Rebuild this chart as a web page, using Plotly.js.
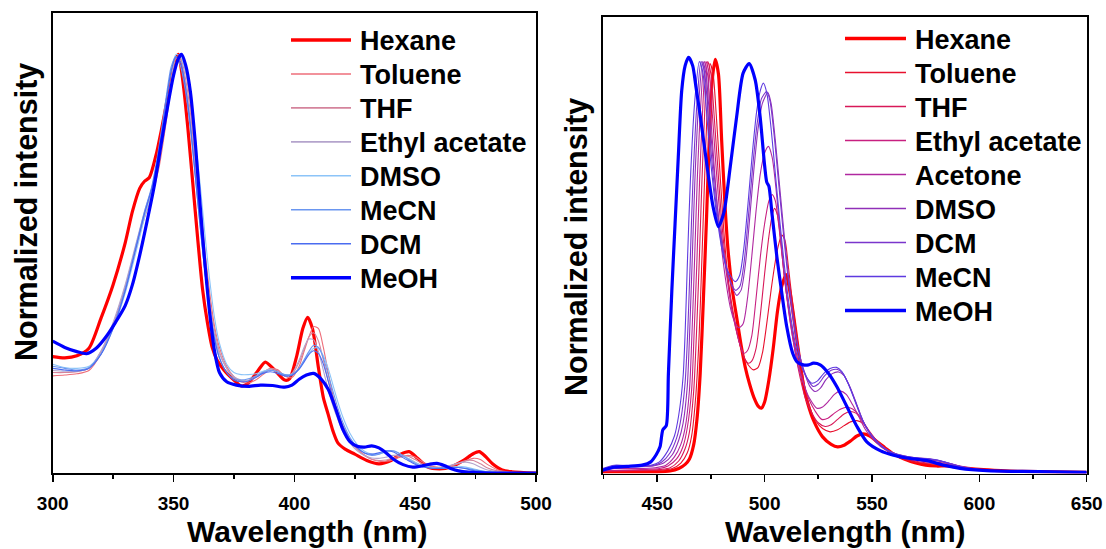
<!DOCTYPE html>
<html><head><meta charset="utf-8">
<script src="https://cdn.plot.ly/plotly-3.0.1.min.js"></script>
<style>html,body{margin:0;padding:0;background:#fff}#chart{width:1106px;height:549px}</style>
</head><body><div id="chart"></div>
<script>
// ---------------- Absorption (left panel) ----------------
const absNames = ['Hexane','Toluene','THF','Ethyl acetate','DMSO','MeCN','DCM','MeOH'];
const absColors = ['#ff0000','#ee6e7a','#d4849c','#b4a4cc','#8cc4f8','#6a96f0','#4a6cf0','#0000ff'];

const absHexaneX = [300,305,310,315,320,325,330,333,336,338,340,343,345,347,349,350.5,352,354,356,358,360,362,364,366,368,371,375,378,381,385,388,392,396,398,401,403.5,405.5,407.5,410,412,414,416,418,421,425,430,435,440,444,447.5,451,455,460,465,470,474,476.5,479,482,486,490,500];
const absHexaneY = [0.278,0.275,0.28,0.298,0.37,0.45,0.55,0.625,0.68,0.697,0.706,0.765,0.82,0.88,0.94,0.98,1.0,0.93,0.82,0.69,0.56,0.44,0.36,0.30,0.27,0.245,0.222,0.208,0.215,0.245,0.265,0.245,0.222,0.225,0.28,0.345,0.372,0.345,0.25,0.18,0.14,0.1,0.072,0.057,0.045,0.03,0.022,0.03,0.045,0.051,0.035,0.015,0.01,0.015,0.03,0.046,0.051,0.04,0.022,0.007,0.003,0];

const absMeOHX = [300,305,310,314,318,322,326,330,333,336,339,342,345,348,350,352,353.3,355,357,359,361,363,365,367,369,372,376,381,386,391,396,399,402,405,408,411,414,417,420,423,426,429,432,435,438,441,445,449,453,456,459,462,465,468,472,480,500];
const absMeOHY = [0.315,0.30,0.29,0.285,0.298,0.325,0.36,0.40,0.45,0.52,0.6,0.685,0.79,0.89,0.95,0.99,1.0,0.975,0.91,0.79,0.64,0.5,0.38,0.29,0.24,0.218,0.21,0.207,0.21,0.209,0.205,0.21,0.224,0.234,0.238,0.225,0.2,0.155,0.105,0.075,0.064,0.062,0.065,0.06,0.048,0.033,0.02,0.014,0.017,0.021,0.023,0.018,0.01,0.005,0.002,0,0];

const absGrid = [300,305,310,315,320,325,330,335,338,341,344,347,349,351,353,355,357,359,361,363,365,367,369,372,375,378,381,384,387,390,393,396,399,402,404,406,408,410,412,414,416,418,420,423,426,429,432,435,438,441,444,447,450,453,456,459,462,465,468,471,474,477,480,484,490,500];
const absToluene = [0.232,0.234,0.237,0.245,0.285,0.35,0.44,0.55,0.61,0.66,0.73,0.84,0.92,0.98,1.0,0.96,0.88,0.77,0.65,0.53,0.43,0.35,0.3,0.255,0.23,0.218,0.215,0.222,0.235,0.248,0.247,0.232,0.228,0.255,0.29,0.325,0.35,0.345,0.3,0.24,0.185,0.145,0.115,0.08,0.058,0.043,0.033,0.028,0.028,0.032,0.038,0.042,0.038,0.027,0.018,0.014,0.014,0.017,0.022,0.029,0.035,0.032,0.02,0.008,0.002,0];
const absTHF = [0.24,0.24,0.242,0.25,0.29,0.355,0.445,0.555,0.62,0.67,0.74,0.85,0.93,0.99,0.99,0.94,0.86,0.74,0.62,0.5,0.41,0.34,0.29,0.25,0.228,0.22,0.22,0.228,0.24,0.25,0.245,0.232,0.235,0.265,0.295,0.325,0.335,0.315,0.27,0.22,0.175,0.14,0.11,0.078,0.056,0.042,0.033,0.03,0.031,0.036,0.041,0.04,0.032,0.022,0.015,0.013,0.014,0.018,0.024,0.03,0.03,0.022,0.012,0.005,0.001,0];
const absEtOAc = [0.245,0.243,0.243,0.25,0.292,0.36,0.45,0.56,0.625,0.68,0.75,0.86,0.94,0.995,0.985,0.93,0.84,0.72,0.6,0.49,0.4,0.33,0.285,0.25,0.23,0.222,0.222,0.23,0.242,0.248,0.242,0.232,0.238,0.27,0.3,0.32,0.318,0.29,0.245,0.2,0.16,0.128,0.1,0.072,0.053,0.042,0.036,0.035,0.038,0.042,0.042,0.035,0.026,0.018,0.013,0.012,0.014,0.019,0.024,0.026,0.022,0.014,0.007,0.003,0.001,0];
const absDMSO = [0.26,0.252,0.25,0.255,0.285,0.345,0.43,0.54,0.61,0.67,0.76,0.89,0.96,1.0,0.995,0.96,0.9,0.8,0.69,0.57,0.46,0.37,0.31,0.26,0.24,0.235,0.235,0.237,0.243,0.246,0.242,0.235,0.235,0.25,0.268,0.285,0.298,0.298,0.28,0.25,0.21,0.17,0.135,0.095,0.068,0.052,0.045,0.045,0.05,0.052,0.045,0.035,0.025,0.018,0.014,0.012,0.012,0.014,0.016,0.014,0.01,0.006,0.003,0.001,0,0];
const absMeCN = [0.255,0.25,0.246,0.252,0.285,0.35,0.44,0.555,0.625,0.685,0.78,0.9,0.97,0.995,0.97,0.91,0.82,0.71,0.59,0.48,0.39,0.32,0.275,0.24,0.225,0.222,0.225,0.232,0.24,0.245,0.242,0.235,0.235,0.25,0.27,0.29,0.305,0.3,0.275,0.235,0.195,0.155,0.122,0.085,0.062,0.048,0.042,0.045,0.052,0.053,0.045,0.033,0.023,0.016,0.012,0.011,0.011,0.012,0.013,0.011,0.008,0.005,0.003,0.001,0,0];
const absDCM = [0.25,0.246,0.244,0.25,0.283,0.345,0.435,0.55,0.62,0.68,0.77,0.89,0.96,0.995,0.98,0.92,0.83,0.71,0.59,0.48,0.39,0.32,0.275,0.24,0.222,0.218,0.22,0.228,0.238,0.242,0.238,0.232,0.233,0.248,0.265,0.283,0.292,0.285,0.26,0.22,0.18,0.143,0.113,0.08,0.06,0.048,0.045,0.048,0.053,0.05,0.04,0.03,0.021,0.015,0.012,0.011,0.012,0.013,0.013,0.01,0.006,0.004,0.002,0.001,0,0];

// ---------------- Emission (right panel) ----------------
const emNames = ['Hexane','Toluene','THF','Ethyl acetate','Acetone','DMSO','DCM','MeCN','MeOH'];
const emColors = ['#ff0000','#e8102e','#d81858','#c82080','#b028a0','#9030b8','#7a35cc','#5e3ae0','#0000ff'];

const emHexaneX = [424.6,430,440,450,456,460,463,465,467,468.5,470,471.5,473,474.5,475.5,477,478.5,480,481.5,483,485,487,489,491,493,495,497,498.5,500,502,504,506,508,510,512,514,516,518,520,523,527,531,534,537,540,543,546,549,552,556,560,565,570,575,580,585,590,600,610,620,635,650];
const emHexaneY = [0.004,0.004,0.004,0.004,0.006,0.012,0.022,0.035,0.07,0.13,0.24,0.42,0.62,0.84,0.94,0.995,0.96,0.8,0.65,0.535,0.44,0.375,0.31,0.255,0.215,0.183,0.162,0.157,0.172,0.225,0.3,0.39,0.45,0.478,0.43,0.36,0.285,0.215,0.17,0.125,0.088,0.07,0.064,0.068,0.078,0.09,0.095,0.09,0.078,0.062,0.047,0.035,0.026,0.02,0.018,0.018,0.015,0.01,0.007,0.005,0.004,0.003];

const emTolueneX = [424.6,435,445,452,457,461,464,466,468,469.5,470.7,472,473.3,474.6,476,477.5,479,480.5,482,484,486,488,490,492.5,494.8,497,499,501,503,505,506.5,508,509.5,511,513,515,517,519,521,524,527,530.5,534,537,540,543,546,549,552,556,560,565,570,575,580,585,590,597,605,620,650];
const emTolueneY = [0.005,0.006,0.007,0.008,0.012,0.025,0.05,0.09,0.19,0.33,0.5,0.7,0.88,0.985,0.96,0.86,0.74,0.62,0.52,0.43,0.37,0.32,0.285,0.26,0.249,0.255,0.29,0.36,0.44,0.51,0.55,0.573,0.56,0.5,0.41,0.33,0.26,0.2,0.16,0.125,0.108,0.1,0.105,0.115,0.124,0.127,0.12,0.1,0.08,0.06,0.045,0.034,0.027,0.024,0.022,0.02,0.016,0.01,0.007,0.004,0.003];

const emTHFX = [424.6,435,445,452,456,460,463,465,467,468.3,469.5,470.8,472.2,473.5,475,476.5,478,479.5,481,483,485,487,489,491,492.4,494,496,498,500,502,503.5,504.6,506,507.5,509,511,513,515,517,519,522,525,528.2,531,534,537,539.8,542.5,545,548,551,555,560,565,570,575,580,585,590,597,605,620,650];
const emTHFY = [0.006,0.007,0.008,0.01,0.014,0.03,0.06,0.1,0.2,0.34,0.5,0.7,0.88,0.99,0.96,0.86,0.75,0.64,0.55,0.46,0.39,0.34,0.3,0.273,0.265,0.27,0.3,0.38,0.48,0.57,0.62,0.637,0.62,0.56,0.48,0.4,0.33,0.27,0.22,0.18,0.145,0.122,0.113,0.117,0.13,0.143,0.149,0.145,0.13,0.105,0.085,0.065,0.048,0.037,0.03,0.026,0.024,0.022,0.017,0.011,0.007,0.004,0.003];

const emEtOAcX = [424.6,435,445,451,455,459,462,464,466,467.2,468.4,469.7,471.2,472.7,474.2,475.7,477.2,478.7,480.5,482.5,484.5,486.5,488.5,490.4,492,494,496,498,500,502,503.5,505,506.5,508,510,512,514,516,518,520.5,523.5,526.6,529.5,532.5,535.5,538.3,541,544,547,550,554,559,565,570,575,580,585,590,597,605,620,650];
const emEtOAcY = [0.007,0.008,0.01,0.012,0.018,0.035,0.065,0.11,0.2,0.34,0.5,0.7,0.88,0.99,0.96,0.86,0.75,0.65,0.55,0.47,0.4,0.35,0.31,0.289,0.295,0.33,0.42,0.52,0.6,0.655,0.67,0.655,0.6,0.53,0.44,0.37,0.31,0.26,0.22,0.18,0.15,0.13,0.133,0.145,0.155,0.159,0.155,0.14,0.115,0.092,0.07,0.05,0.038,0.032,0.029,0.027,0.024,0.018,0.012,0.007,0.004,0.003];

const emAcetoneX = [424.6,430,440,449,454,458,461,463,465,466.2,467.3,468.6,470.2,471.9,473.4,475,476.5,478,480,482,484,486,488,490,492,494,496,498,500,501.8,503.5,505,506.5,508,510,512,514,516,518.5,521,524.3,527,530,532.5,535.2,538,541,544,547,550,554,559,565,570,575,580,585,590,597,605,620,650];
const emAcetoneY = [0.008,0.012,0.012,0.014,0.02,0.04,0.07,0.11,0.2,0.34,0.5,0.7,0.88,0.99,0.96,0.85,0.74,0.64,0.54,0.46,0.4,0.365,0.35,0.36,0.42,0.52,0.63,0.72,0.77,0.786,0.76,0.7,0.62,0.54,0.44,0.36,0.3,0.25,0.21,0.18,0.157,0.16,0.175,0.19,0.198,0.19,0.165,0.135,0.105,0.085,0.065,0.05,0.04,0.036,0.034,0.031,0.026,0.019,0.012,0.007,0.004,0.003];

const emDMSOX = [424.6,430,440,448,453,457,460,462,464,465.1,466.2,467.5,469.3,471.2,472.7,474.3,476,478,480,482,484,487,489,491,493,495,497,499,501.5,503,505,507,509,511,513,515,517,519,521,523.5,526,528.5,531.5,534.5,537,540,543,546,549,553,557,562,567,572,577,582,587,592,598,605,620,650];
const emDMSOY = [0.01,0.018,0.016,0.018,0.025,0.045,0.08,0.12,0.21,0.34,0.5,0.7,0.89,0.99,0.96,0.86,0.75,0.64,0.56,0.5,0.46,0.428,0.44,0.5,0.61,0.73,0.83,0.89,0.915,0.89,0.8,0.69,0.58,0.48,0.39,0.32,0.27,0.235,0.21,0.197,0.205,0.225,0.24,0.244,0.235,0.205,0.165,0.125,0.098,0.072,0.056,0.046,0.04,0.037,0.035,0.03,0.023,0.016,0.01,0.007,0.004,0.002];

const emDCMX = [424.6,430,440,448,452,456,459,461,463,464.2,465.3,466.6,468.5,470.4,472,473.6,475.3,477.3,479.5,481.5,483.5,486.5,488.5,490.5,492.5,494.5,496.5,498.5,501,502.5,504.5,506.5,508.5,510.5,512.5,514.5,516.5,518.5,520.5,522.7,525,528,531,534,536.5,539.5,542.5,545.5,548.5,552.5,556.5,561,566,571,576,581,586,591,597,605,620,650];
const emDCMY = [0.01,0.019,0.017,0.019,0.027,0.05,0.085,0.13,0.22,0.34,0.5,0.7,0.89,0.99,0.965,0.87,0.76,0.65,0.57,0.51,0.47,0.44,0.45,0.51,0.62,0.74,0.84,0.9,0.918,0.895,0.81,0.7,0.59,0.49,0.4,0.33,0.28,0.245,0.222,0.209,0.215,0.235,0.248,0.25,0.24,0.21,0.17,0.13,0.1,0.074,0.058,0.047,0.041,0.037,0.035,0.031,0.024,0.017,0.011,0.007,0.004,0.002];

const emMeCNX = [424.6,430,440,447,451,455,458,460,462,463,464,465.4,467.4,469.6,471.2,472.8,474.5,476.5,478.5,480.5,482.5,486.3,488.3,490.3,492.3,494.3,496.3,498,499.4,501,503,505,507,509,511,513,515,517,519.5,522,524.5,527.5,530.5,533.5,536,539,542,545,548,552,556,560,565,570,575,580,585,590,596,605,620,650];
const emMeCNY = [0.012,0.02,0.018,0.02,0.028,0.055,0.09,0.14,0.23,0.34,0.5,0.7,0.89,0.99,0.965,0.88,0.77,0.67,0.59,0.53,0.49,0.461,0.475,0.54,0.65,0.77,0.87,0.92,0.938,0.915,0.83,0.72,0.61,0.51,0.42,0.35,0.295,0.26,0.232,0.217,0.222,0.24,0.252,0.255,0.245,0.215,0.175,0.135,0.105,0.078,0.06,0.049,0.042,0.038,0.036,0.033,0.026,0.018,0.011,0.007,0.004,0.002];

const emMeOHX = [424.6,430,436,443,447,449.5,451.3,452.6,454.2,455.2,456.8,458.3,459.8,461.4,463,464.6,466.5,468,470,473,476,478.5,481,484,487,490,492.8,495.6,497.9,500,501,502,503.4,505.7,508,510.3,513,515,518,520.5,522.7,525.9,529.7,533.6,538.3,543,547.6,553.8,560,567.8,575.6,583.3,591,603.5,620,650];
const emMeOHY = [0.008,0.015,0.017,0.02,0.028,0.045,0.064,0.105,0.115,0.24,0.44,0.6,0.76,0.92,0.98,1.0,0.98,0.93,0.86,0.746,0.641,0.593,0.626,0.737,0.858,0.962,0.985,0.946,0.858,0.74,0.70,0.69,0.626,0.521,0.434,0.353,0.29,0.269,0.261,0.261,0.265,0.261,0.241,0.209,0.161,0.113,0.076,0.055,0.044,0.036,0.031,0.02,0.0125,0.007,0.005,0.003];

const xTicksAbs = [300,350,400,450,500];
const xTicksEm = [450,500,550,600,650];

// ---------------- build ----------------
const W = 1106, H = 549;
const FONT = 'Liberation Sans, Arial, Helvetica, sans-serif';
const absSeries = [
  [absHexaneX, absHexaneY], [absGrid, absToluene], [absGrid, absTHF], [absGrid, absEtOAc],
  [absGrid, absDMSO], [absGrid, absMeCN], [absGrid, absDCM], [absMeOHX, absMeOHY]
];
const emSeries = [
  [emHexaneX, emHexaneY], [emTolueneX, emTolueneY], [emTHFX, emTHFY], [emEtOAcX, emEtOAcY],
  [emAcetoneX, emAcetoneY], [emDMSOX, emDMSOY], [emDCMX, emDCMY], [emMeCNX, emMeCNY], [emMeOHX, emMeOHY]
];
function isThick(name){ return name === 'Hexane' || name === 'MeOH'; }

const traces = [];
absSeries.forEach((s, i) => {
  traces.push({x: s[0], y: s[1], name: absNames[i], type: 'scatter', mode: 'lines',
    xaxis: 'x', yaxis: 'y', showlegend: false,
    line: {color: absColors[i], width: isThick(absNames[i]) ? 3.2 : 1.1, shape: 'spline', smoothing: 0.7}});
});
emSeries.forEach((s, i) => {
  traces.push({x: s[0], y: s[1], name: emNames[i], type: 'scatter', mode: 'lines',
    xaxis: 'x2', yaxis: 'y2', showlegend: false,
    line: {color: emColors[i], width: isThick(emNames[i]) ? 3.2 : 1.1, shape: 'spline', smoothing: 0.7}});
});

const shapes = [], annotations = [];
function px(x){ return x / W; }
function py(y){ return 1 - y / H; }
function addLegend(names, colors, lineX0, lineX1, textX, y0, step){
  names.forEach((n, i) => {
    const y = y0 + i * step;
    shapes.push({type: 'line', xref: 'paper', yref: 'paper', x0: px(lineX0), x1: px(lineX1), y0: py(y), y1: py(y),
      line: {color: colors[i], width: isThick(n) ? 3.5 : 1.6}});
    annotations.push({xref: 'paper', yref: 'paper', x: px(textX), y: py(y + 1), xanchor: 'left', yanchor: 'middle',
      text: '<b>' + n + '</b>', showarrow: false, font: {family: FONT, size: 27, color: '#000'}});
  });
}
addLegend(absNames, absColors, 291, 351, 358, 40, 33.95);
addLegend(emNames, emColors, 845, 906, 913, 38.5, 34.0);

function xTitle(text, x){
  annotations.push({xref: 'paper', yref: 'paper', x: px(x), y: py(548.5), xanchor: 'center', yanchor: 'bottom',
    text: '<b>' + text + '</b>', showarrow: false, borderpad: 0,
    font: {family: FONT, size: 30, color: '#000'}});
}
function yTitle(text, x, y){
  annotations.push({xref: 'paper', yref: 'paper', x: px(x), y: py(y), xanchor: 'center', yanchor: 'middle',
    text: '<b>' + text + '</b>', showarrow: false, textangle: -90,
    font: {family: FONT, size: 30.5, color: '#000'}});
}
xTitle('Wavelength (nm)', 307);
xTitle('Wavelength (nm)', 845);
yTitle('Normalized intensity', 26, 212);
yTitle('Normalized intensity', 576, 247);

function xAxis(domain, range, tickvals, anchor){
  return {domain: domain, range: range, anchor: anchor, tickmode: 'array', tickvals: tickvals,
    ticktext: tickvals.map(String), ticks: 'outside', ticklen: 7, tickwidth: 1.6, tickcolor: '#000',
    minor: {ticks: 'outside', dtick: 25, tick0: 0, ticklen: 4, tickwidth: 1.6, tickcolor: '#000', showgrid: false},
    showline: true, linecolor: '#000', linewidth: 1.8, mirror: true, showgrid: false, zeroline: false,
    ticklabelstandoff: 5, tickfont: {family: FONT, size: 19, color: '#000', weight: 'bold'}, fixedrange: true};
}
function yAxis(domain, range, anchor){
  return {domain: domain, range: range, anchor: anchor, showticklabels: false, ticks: '',
    showline: true, linecolor: '#000', linewidth: 1.8, mirror: true, showgrid: false, zeroline: false, fixedrange: true};
}

const layout = {
  width: W, height: H, margin: {l: 0, r: 0, t: 0, b: 0}, paper_bgcolor: '#fff', plot_bgcolor: '#fff',
  showlegend: false,
  xaxis: xAxis([52.7 / W, 536 / W], [300, 500], xTicksAbs, 'y'),
  yaxis: yAxis([1 - 473 / H, 1 - 13 / H], [0, 1.099], 'x'),
  xaxis2: xAxis([602.7 / W, 1086.7 / W], [424.6, 650], xTicksEm, 'y2'),
  yaxis2: yAxis([1 - 473.5 / H, 1 - 16.5 / H], [0, 1.098], 'x2'),
  shapes: shapes, annotations: annotations
};
Plotly.newPlot('chart', traces, layout, {displayModeBar: false, staticPlot: true});
</script>
</body></html>
